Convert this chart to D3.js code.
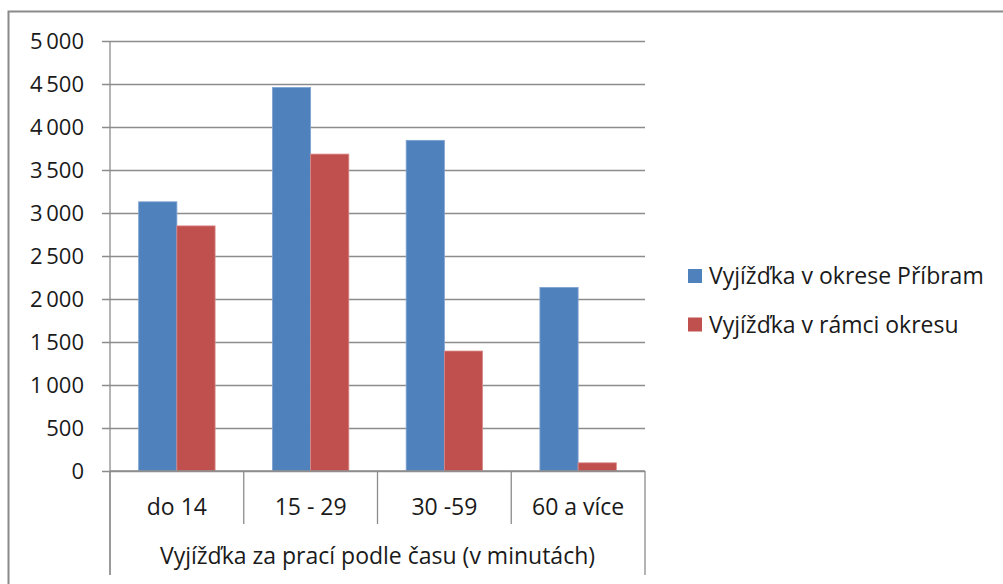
<!DOCTYPE html>
<html>
<head>
<meta charset="utf-8">
<script src="https://cdn.jsdelivr.net/npm/d3@7"></script>
<style>
  body { margin: 0; background: #fff; }
  svg text { font-family: "Open Sans", Lato, sans-serif; fill: #1a1a1a; }
</style>
</head>
<body>
<div id="vis-container"></div>
<script>
// chart data
const categories = ["do 14", "15 - 29", "30 -59", "60 a více"];
const seriesNames = ["Vyjížďka v okrese Příbram", "Vyjížďka v rámci okresu"];
const okresValues = [3130, 4460, 3845, 2135];
const ramciValues = [2850, 3685, 1395, 95];
const yTicks = [0, 500, 1000, 1500, 2000, 2500, 3000, 3500, 4000, 4500, 5000];
const axisTitle = "Vyjížďka za prací podle času (v minutách)";

const colors = ["#4F81BD", "#C0504D"];
const gridColor = "#8c8c8c";

const width = 1003, height = 584;
const plot = { left: 110, right: 645, top: 41, bottom: 471 };

const svg = d3.select('#vis-container')
  .append('svg')
  .attr('width', width)
  .attr('height', height);

// outer frame (left + top edges visible)
svg.append('path')
  .attr('d', `M8.5,${height} V11.5 H${width}`)
  .attr('fill', 'none')
  .attr('stroke', '#8a8a8a')
  .attr('stroke-width', 2);

const y = d3.scaleLinear().domain([0, 5000]).range([plot.bottom, plot.top]);
const x0 = d3.scaleBand().domain(categories).range([plot.left, plot.right]);
const x1 = d3.scaleBand().domain([0, 1]).range([0, x0.bandwidth()])
  .paddingOuter(0.75);

// gridlines with tick marks
const yAxis = d3.axisLeft(y)
  .tickValues(yTicks)
  .tickSize(-(plot.right - plot.left))
  .tickFormat(d => d3.format(",")(d).replace(/,/g, "\u2009"));

const gy = svg.append('g')
  .attr('transform', `translate(${plot.left},0)`)
  .call(yAxis);
gy.select('.domain').remove();
gy.selectAll('.tick line')
  .attr('x1', -8)
  .attr('stroke', gridColor)
  .attr('stroke-width', 1.3);
gy.selectAll('.tick text')
  .attr('x', -26)
  .attr('dy', '0.34em')
  .style('font-size', '22px')
  .style('font-family', '"Open Sans", sans-serif');

// y axis line, extended down past category area
svg.append('line')
  .attr('x1', plot.left).attr('x2', plot.left)
  .attr('y1', plot.top).attr('y2', 575)
  .attr('stroke', gridColor).attr('stroke-width', 1.3);

// bars
const series = [okresValues, ramciValues];
const groups = svg.append('g')
  .selectAll('g')
  .data(categories)
  .enter()
  .append('g')
  .attr('transform', d => `translate(${x0(d)},0)`);

groups.selectAll('rect')
  .data((d, i) => series.map((s, k) => ({ k: k, v: s[i] })))
  .enter()
  .append('rect')
  .attr('x', d => x1(d.k))
  .attr('width', x1.bandwidth())
  .attr('y', d => y(d.v))
  .attr('height', d => y(0) - y(d.v))
  .attr('fill', d => colors[d.k])
  .attr('stroke', d => d.k === 0 ? '#7fa3d1' : '#d98a88')
  .attr('stroke-width', 0.8);

// x axis line
svg.append('line')
  .attr('x1', plot.left).attr('x2', plot.right)
  .attr('y1', y(0)).attr('y2', y(0))
  .attr('stroke', gridColor).attr('stroke-width', 1.3);

// category dividers
const edges = categories.map(c => x0(c)).concat([plot.right]);
svg.append('g')
  .selectAll('line')
  .data(edges)
  .enter()
  .append('line')
  .attr('x1', d => d).attr('x2', d => d)
  .attr('y1', y(0))
  .attr('y2', (d, i) => (i === 0 || i === edges.length - 1) ? 575 : 524)
  .attr('stroke', gridColor).attr('stroke-width', 1.3);

// category labels
svg.append('g')
  .selectAll('text')
  .data(categories)
  .enter()
  .append('text')
  .attr('x', d => x0(d) + x0.bandwidth() / 2)
  .attr('y', 515)
  .attr('text-anchor', 'middle')
  .style('font-size', '23px')
  .text(d => d);

// outer category level title
svg.append('text')
  .attr('x', (plot.left + plot.right) / 2)
  .attr('y', 564)
  .attr('text-anchor', 'middle')
  .style('font-size', '23px')
  .text(axisTitle);

// legend
const legend = svg.append('g')
  .selectAll('g')
  .data(seriesNames)
  .enter()
  .append('g')
  .attr('transform', (d, i) => `translate(688,${276 + i * 48.5})`);

legend.append('rect')
  .attr('x', 0).attr('y', -7)
  .attr('width', 14).attr('height', 14)
  .attr('fill', (d, i) => colors[i]);

legend.append('text')
  .attr('x', 21)
  .attr('y', 8)
  .style('font-size', '23px')
  .text(d => d);
</script>
</body>
</html>
